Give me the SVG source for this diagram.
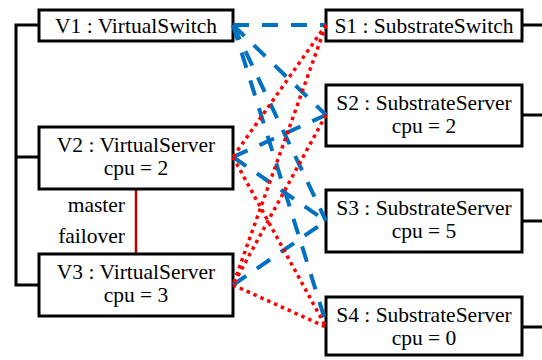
<svg xmlns="http://www.w3.org/2000/svg" width="542" height="360" viewBox="0 0 542 360">
<style>
.box{fill:#fff;stroke:#000;stroke-width:3}
.wire{fill:none;stroke:#000;stroke-width:3}
text{font-family:"Liberation Serif","Times New Roman",serif;font-size:21.5px;fill:#000}
.c{text-anchor:middle}
.r{text-anchor:end}
.blue{stroke:#0070C0;stroke-width:4;stroke-dasharray:16 13;fill:none}
.red{stroke:#FF0000;stroke-width:3.5;stroke-dasharray:3.5 4;fill:none}
</style>
<rect width="542" height="360" fill="#fff"/>
<g id="wires">
<path class="wire" d="M39,25 H16 V285 H39 M16,157 H39"/>
<path class="wire" d="M522,25 H542 M522,115 H542 M522,221 H542 M522,327 H542"/>
<line x1="136" y1="189" x2="136" y2="254" stroke="#C00000" stroke-width="2.5"/>
</g>
<g id="V1"><rect class="box" x="39" y="10" width="194" height="31"/><text class="c" x="136" y="33">V1 : VirtualSwitch</text></g>
<g id="V2"><rect class="box" x="39" y="127" width="194" height="62"/><text class="c" x="136" y="152">V2 : VirtualServer</text><text class="c" x="136" y="175">cpu = 2</text></g>
<g id="V3"><rect class="box" x="39" y="254" width="194" height="62"/><text class="c" x="136" y="279">V3 : VirtualServer</text><text class="c" x="136" y="302">cpu = 3</text></g>
<g id="S1"><rect class="box" x="326" y="10" width="196" height="31"/><text class="c" x="424" y="33">S1 : SubstrateSwitch</text></g>
<g id="S2"><rect class="box" x="326" y="85" width="196" height="61"/><text class="c" x="424" y="110">S2 : SubstrateServer</text><text class="c" x="424" y="133">cpu = 2</text></g>
<g id="S3"><rect class="box" x="326" y="190" width="196" height="62"/><text class="c" x="424" y="215">S3 : SubstrateServer</text><text class="c" x="424" y="238">cpu = 5</text></g>
<g id="S4"><rect class="box" x="326" y="297" width="196" height="58"/><text class="c" x="424" y="322">S4 : SubstrateServer</text><text class="c" x="424" y="345">cpu = 0</text></g>
<g id="labels"><text class="r" x="125" y="212">master</text><text class="r" x="125" y="243">failover</text></g>
<g id="connectors">
<line class="blue" x1="233" y1="25" x2="326" y2="25"/>
<line class="blue" x1="233" y1="25" x2="326" y2="115"/>
<line class="blue" x1="233" y1="25" x2="326" y2="221"/>
<line class="blue" x1="233" y1="25" x2="326" y2="323"/>
<line class="blue" x1="233" y1="157" x2="326" y2="115"/>
<line class="blue" x1="233" y1="157" x2="326" y2="221"/>
<line class="blue" x1="233" y1="285" x2="326" y2="221"/>
<line class="red" x1="326" y1="25" x2="233" y2="157"/>
<line class="red" x1="326" y1="25" x2="233" y2="285"/>
<line class="red" x1="326" y1="115" x2="233" y2="285"/>
<line class="red" x1="233" y1="157" x2="326" y2="327"/>
<line class="red" x1="233" y1="285" x2="326" y2="327"/>
</g>
</svg>
